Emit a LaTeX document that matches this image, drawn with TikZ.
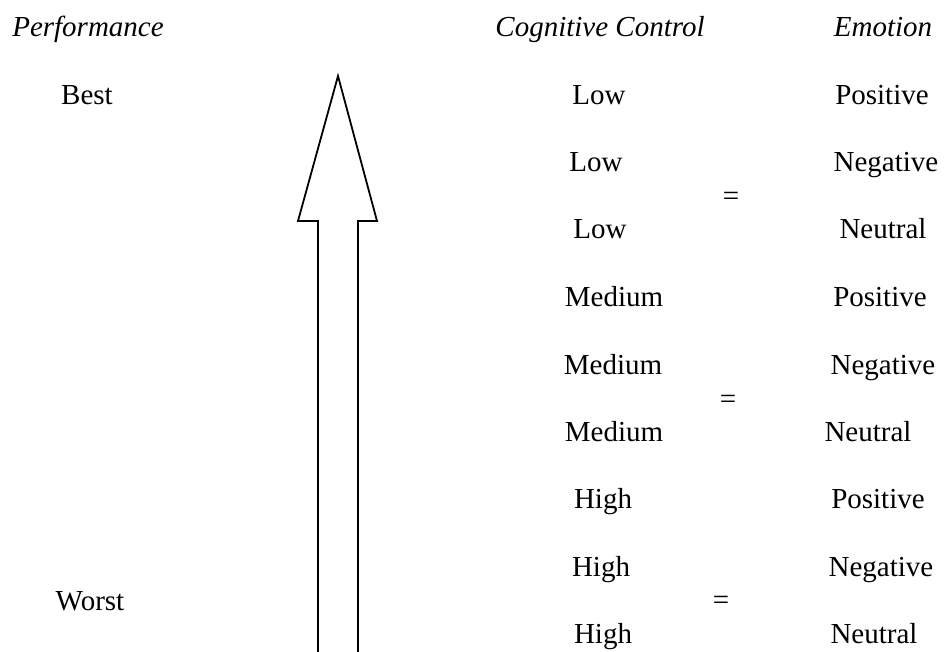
\documentclass[tikz,border=0pt]{standalone}
\usepackage{fontspec}
\setmainfont{Liberation Serif}
\begin{document}
\begin{tikzpicture}[x=1pt,y=-1pt,
  lbl/.style={anchor=base,inner sep=0pt,font=\fontsize{29}{35}\selectfont},
  hdr/.style={lbl,font=\fontsize{29}{35}\selectfont\itshape},
  arrowline/.style={draw=black,line width=1.8pt,line join=miter}]
\useasboundingbox (0,0) rectangle (945,652);
% headers
\node[hdr] (hperf) at (88,37) {Performance};
\node[hdr] (hcog) at (600,37) {Cognitive Control};
\node[hdr] (hemo) at (883,37) {Emotion};
% performance labels
\node[lbl] (best) at (87,105) {Best};
\node[lbl] (worst) at (90,610) {Worst};
% cognitive control column
\node[lbl] (c1) at (599,105) {Low};
\node[lbl] (c2) at (596,172) {Low};
\node[lbl] (c3) at (600,239) {Low};
\node[lbl] (c4) at (614,306) {Medium};
\node[lbl] (c5) at (613,374) {Medium};
\node[lbl] (c6) at (614,441) {Medium};
\node[lbl] (c7) at (603,508) {High};
\node[lbl] (c8) at (601,576) {High};
\node[lbl] (c9) at (603,643) {High};
% equals signs
\node[lbl] (e1) at (731,206) {=};
\node[lbl] (e2) at (728,408) {=};
\node[lbl] (e3) at (721,609) {=};
% emotion column
\node[lbl] (m1) at (882,105) {Positive};
\node[lbl] (m2) at (886,172) {Negative};
\node[lbl] (m3) at (883,239) {Neutral};
\node[lbl] (m4) at (880,306) {Positive};
\node[lbl] (m5) at (883,374) {Negative};
\node[lbl] (m6) at (868,441) {Neutral};
\node[lbl] (m7) at (878,508) {Positive};
\node[lbl] (m8) at (881,576) {Negative};
\node[lbl] (m9) at (874,643) {Neutral};
% big hollow arrow
\coordinate (sl) at (318,652);
\coordinate (sr) at (358,652);
\coordinate (tip) at (338,76);
\draw[arrowline] (sl) -- (318,221) -- (298,221) -- (tip) -- (377,221) -- (358,221) -- (sr);
\end{tikzpicture}
\end{document}
